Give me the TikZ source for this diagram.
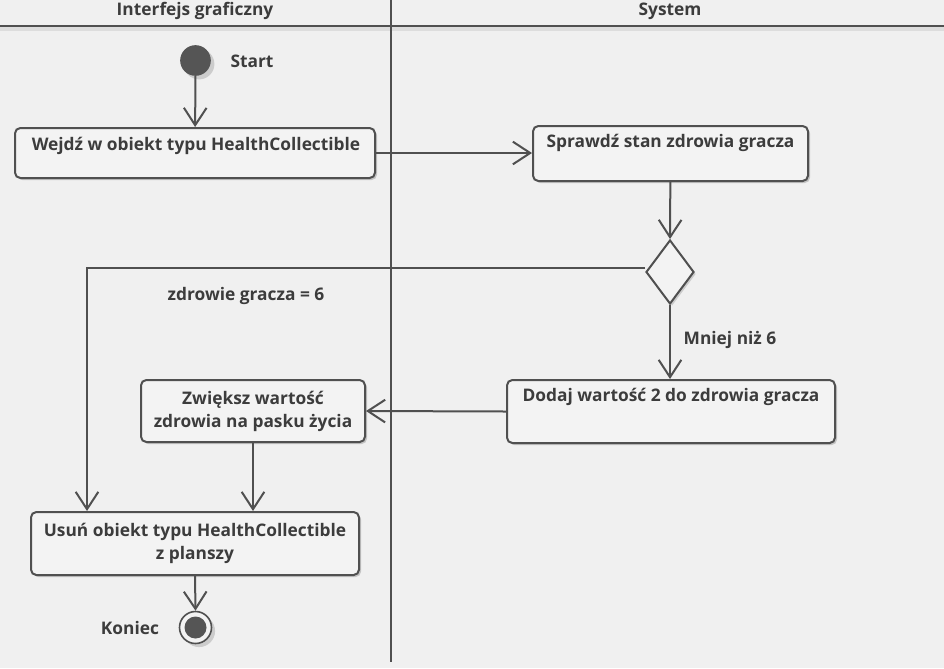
\documentclass[tikz,border=0pt]{standalone}
\usepackage{fontspec}
\setmainfont{Open Sans}
\usetikzlibrary{arrows.meta,shapes.geometric,shadows}
\definecolor{bg}{HTML}{F0F0F0}
\definecolor{ln}{HTML}{505050}
\definecolor{tx}{HTML}{3C3C3C}
\definecolor{boxfill}{HTML}{F3F3F3}
\definecolor{dot}{HTML}{555555}
\begin{document}
\begin{tikzpicture}[x=0.75pt,y=-0.75pt,
  every node/.style={font=\bfseries\fontsize{13}{17.25}\selectfont, text=tx},
  act/.style={draw=ln, line width=1.5pt, rounded corners=4pt, fill=boxfill, inner sep=0pt,
    drop shadow={shadow xshift=1.5pt, shadow yshift=-1.5pt, opacity=0.18, fill=black}},
  txt/.style={align=center, inner sep=0pt},
  flow/.style={draw=ln, line width=1.5pt, -{Straight Barb[length=13pt,width=17pt,line width=1.5pt]}},
  plain/.style={draw=ln, line width=1.5pt}]
\useasboundingbox (0,0) rectangle (944,668);
\fill[bg] (0,0) rectangle (944,668);
% header
\fill[black,opacity=0.08] (0,27) rectangle (944,31);
\draw[plain] (0,26) -- (944,26);
\draw[plain] (391,0) -- (391,662);
\node[txt] (h1) at (195,11) {Interfejs graficzny};
\node[txt] (h2) at (670,11) {System};
% start
\node[circle, fill=dot, minimum size=23pt, inner sep=0pt, drop shadow={opacity=0.15,fill=black}] (start) at (195.5,60.5) {};
\node[txt] (ls) at (252,61) {Start};
% boxes
\node[act, minimum width=270pt, minimum height=37.5pt] (b1) at (195,153) {};
\node[txt] (t1) at (196,146) {Wejdź w obiekt typu HealthCollectible};
\node[act, minimum width=206.25pt, minimum height=41.25pt] (b2) at (670.5,153.5) {};
\node[txt] (t2) at (670.5,143) {Sprawdź stan zdrowia gracza};
\node[diamond, draw=ln, line width=1.5pt, fill=boxfill, inner sep=0pt, minimum width=36pt, minimum height=48pt,
  drop shadow={shadow xshift=1.5pt, shadow yshift=-1.5pt, opacity=0.15, fill=black}] (d) at (670,272) {};
\node[act, minimum width=246pt, minimum height=47.25pt] (b3) at (671,411.5) {};
\node[txt] (t3) at (671,397) {Dodaj wartość 2 do zdrowia gracza};
\node[act, minimum width=168pt, minimum height=46.5pt] (b4) at (253,411) {};
\node[txt] (t4) at (253,411.5) {Zwiększ wartość\\zdrowia na pasku życia};
\node[act, minimum width=246pt, minimum height=47.25pt] (b5) at (195,543.5) {};
\node[txt] (t5) at (195,543.5) {Usuń obiekt typu HealthCollectible\\z planszy};
% end
\node[circle, draw=ln, line width=1.2pt, fill=boxfill, minimum size=24pt, inner sep=0pt,
  drop shadow={opacity=0.15,fill=black}] (end) at (195.5,627.5) {};
\node[circle, fill=dot, minimum size=16.5pt, inner sep=0pt] (endin) at (end.center) {};
\node[txt] (le) at (130,628) {Koniec};
% labels
\node[txt] (l1) at (246,296) {zdrowie gracza = 6};
\node[txt] (l2) at (730,340) {Mniej niż 6};
% flows
\draw[flow] (start) -- (b1);
\draw[flow] (b1.east) -- (b2.west |- b1.east);
\draw[flow] (b2) -- (d.north);
\draw[flow] ([yshift=3pt]d.west) -| ([xshift=42.75pt]b5.north west);
\draw[flow] (d.south) -- (d.south |- b3.north);
\draw[flow] (b3.west) -- (b4.east);
\draw[flow] (b4.south) -- (b4.south |- b5.north);
\draw[flow] (b5.south) -- (end.north);
\end{tikzpicture}
\end{document}
